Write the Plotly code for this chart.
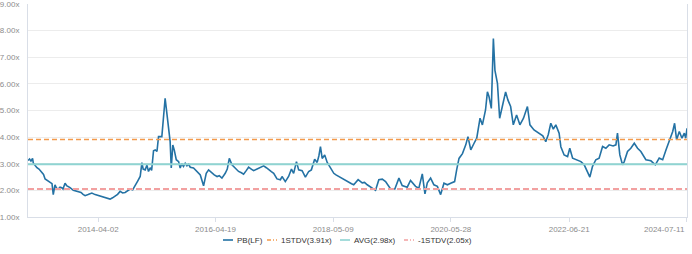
import plotly.graph_objects as go

# ---- data ----
dates = [
    "2013-01-10","2013-01-20","2013-01-29","2013-02-08","2013-02-13","2013-02-24","2013-03-08","2013-03-21",
    "2013-04-07","2013-04-19","2013-04-29","2013-05-11","2013-05-30","2013-06-12","2013-06-20","2013-07-01",
    "2013-07-11","2013-07-22","2013-08-02","2013-08-13","2013-08-21","2013-09-03","2013-09-13","2013-09-24",
    "2013-10-05","2013-10-26","2013-11-12","2013-11-27","2013-12-14","2013-12-27","2014-01-09","2014-01-28",
    "2014-02-21","2014-03-14","2014-04-04","2014-04-21","2014-05-16","2014-06-05","2014-06-17","2014-07-03",
    "2014-07-19","2014-08-04","2014-08-20","2014-09-05","2014-09-21","2014-10-07","2014-10-23","2014-11-08",
    "2014-11-24","2014-12-10","2014-12-26","2015-01-06","2015-01-14","2015-01-27","2015-02-07","2015-02-17",
    "2015-02-28","2015-03-09","2015-03-21","2015-04-01","2015-04-12","2015-04-22","2015-05-13","2015-05-24",
    "2015-06-03","2015-06-10","2015-06-14","2015-06-25","2015-07-05","2015-07-12","2015-07-22","2015-07-31",
    "2015-08-13","2015-08-28","2015-09-07","2015-09-17","2015-09-28","2015-10-09","2015-10-20","2015-10-31",
    "2015-11-10","2015-12-01","2015-12-23","2016-01-13","2016-02-03","2016-02-20","2016-03-06","2016-03-17",
    "2016-03-28","2016-04-11","2016-04-29","2016-05-13","2016-05-30","2016-06-11","2016-06-20","2016-07-03",
    "2016-07-16","2016-08-02","2016-08-23","2016-09-13","2016-10-01","2016-10-15","2016-11-02","2016-11-16",
    "2016-12-03","2016-12-18","2017-01-09","2017-01-30","2017-02-20","2017-03-09","2017-03-24","2017-04-10",
    "2017-04-25","2017-05-16","2017-06-07","2017-06-17","2017-07-08","2017-07-29","2017-08-16","2017-08-30",
    "2017-09-17","2017-10-01","2017-10-23","2017-11-13","2017-12-04","2017-12-21","2018-01-11","2018-01-27",
    "2018-02-07","2018-02-17","2018-02-28","2018-03-16","2018-04-01","2018-04-22","2018-05-13","2018-05-27",
    "2018-06-14","2018-07-01","2018-07-16","2018-08-02","2018-08-16","2018-09-03","2018-09-17","2018-10-15",
    "2018-11-10","2018-11-25","2018-12-12","2018-12-27","2019-01-13","2019-02-03","2019-02-24","2019-03-18",
    "2019-04-08","2019-04-24","2019-05-10","2019-06-06","2019-07-02","2019-07-23","2019-08-24","2019-09-14",
    "2019-09-30","2019-10-16","2019-11-06","2019-11-28","2019-12-15","2019-12-30","2020-01-20","2020-02-10",
    "2020-03-03","2020-03-24","2020-04-14","2020-05-06","2020-05-27","2020-06-21","2020-07-04","2020-07-19",
    "2020-08-10","2020-08-31","2020-09-14","2020-10-02","2020-10-23","2020-11-09","2020-11-30","2020-12-15",
    "2021-01-04","2021-01-16","2021-01-26","2021-02-10","2021-02-23","2021-03-05","2021-03-21","2021-04-04",
    "2021-04-21","2021-05-12","2021-05-27","2021-06-13","2021-06-30","2021-07-21","2021-08-11","2021-09-03",
    "2021-09-28","2021-10-14","2021-11-09","2021-12-11","2022-01-04","2022-01-23","2022-02-08","2022-02-24",
    "2022-03-12","2022-03-28","2022-04-18","2022-04-29","2022-05-20","2022-06-11","2022-06-25","2022-07-13",
    "2022-08-03","2022-09-04","2022-09-25","2022-10-16","2022-10-31","2022-11-17","2022-12-08","2022-12-29",
    "2023-01-20","2023-02-10","2023-03-03","2023-03-28","2023-04-15","2023-04-25","2023-05-10","2023-05-27",
    "2023-06-07","2023-06-28","2023-07-19","2023-08-10","2023-08-31","2023-09-21","2023-10-23","2023-11-24",
    "2023-12-22","2024-01-16","2024-02-07","2024-02-28","2024-03-20","2024-04-11","2024-04-23","2024-05-06",
    "2024-05-23","2024-06-09","2024-06-24","2024-07-03","2024-07-11",
]
pb = [
    3.12,3.18,3.10,3.20,3.02,2.92,2.85,2.80,
    2.66,2.60,2.43,2.38,2.33,2.25,1.84,2.21,
    2.08,2.05,2.12,2.10,2.05,2.27,2.18,2.15,
    2.10,2.00,1.98,1.96,1.92,1.85,1.80,1.84,
    1.90,1.84,1.80,1.78,1.73,1.70,1.67,1.72,
    1.77,1.85,1.96,1.90,1.92,1.98,2.05,2.02,
    2.21,2.35,2.52,3.04,2.80,2.77,2.95,2.71,
    2.85,2.75,3.49,3.52,3.46,4.02,4.02,4.90,
    5.46,5.10,4.90,4.27,3.83,2.84,3.70,3.52,
    3.15,3.08,2.84,3.00,2.90,3.02,2.92,2.98,
    2.87,2.84,2.71,2.58,2.17,2.64,2.77,2.70,
    2.64,2.58,2.52,2.55,2.46,2.55,2.64,2.80,
    3.20,2.96,2.84,2.71,2.66,2.61,2.75,2.87,
    2.80,2.74,2.80,2.86,2.92,2.85,2.77,2.70,
    2.64,2.43,2.40,2.52,2.33,2.52,2.80,2.64,
    3.08,2.77,2.74,2.50,2.71,2.77,3.17,3.05,
    3.30,3.64,3.20,3.33,3.05,2.84,2.64,2.58,
    2.52,2.45,2.40,2.35,2.28,2.25,2.21,2.40,
    2.28,2.30,2.21,2.15,2.05,2.00,2.40,2.42,
    2.33,2.20,2.05,2.05,2.46,2.18,2.12,2.37,
    2.25,2.15,2.08,2.62,1.87,2.28,2.46,2.21,
    2.15,1.84,2.27,2.21,2.27,2.33,2.77,3.20,
    3.38,3.71,4.02,3.52,3.77,3.96,4.71,4.46,
    5.02,5.70,5.53,5.08,7.70,6.51,6.02,4.71,
    5.15,5.70,5.39,5.15,4.46,4.83,4.46,4.71,
    5.15,4.46,4.27,4.15,4.05,3.83,4.10,4.52,
    4.30,4.46,4.15,3.64,3.33,3.27,3.58,3.21,
    3.15,3.08,2.96,2.71,2.50,2.90,3.15,3.21,
    3.65,3.58,3.71,3.67,3.71,4.15,3.33,2.96,
    3.08,3.46,3.58,3.77,3.58,3.46,3.15,3.11,
    2.96,3.21,3.15,3.52,3.90,4.21,4.52,3.90,
    4.21,3.96,4.15,3.96,4.33,
]
plus_std = 3.91
avg = 2.98
minus_std = 2.05
x_ticks = ["2014-04-02", "2016-04-19", "2018-05-09", "2020-05-28", "2022-06-21", "2024-07-11"]
y_ticks = [1, 2, 3, 4, 5, 6, 7, 8, 9]

FONT = "Liberation Sans, Arial, sans-serif"
TICK_GRAY = "#8c8c8c"
AXIS_GRAY = "#d9dee7"

# series styles (used both for traces and the compact legend)
series = [
    dict(name="PB(LF)", color="#2472a4", width=1.6, dash="solid", legdash="solid"),
    dict(name=f"1STDV({plus_std:.2f}x)", color="#f39a4c", width=1.5, dash="5px,3px", legdash="4px,2px,1px,2px"),
    dict(name=f"AVG({avg:.2f}x)", color="#8fd4d2", width=1.8, dash="solid", legdash="solid"),
    dict(name=f"-1STDV({minus_std:.2f}x)", color="#f2a0a0", width=2, dash="6px,3px", legdash="4px,2px,1px,2px"),
]
ys = [pb, [plus_std, plus_std], [avg, avg], [minus_std, minus_std]]
ends = [dates[0], dates[-1]]
xs = [dates, ends, ends, ends]

fig = go.Figure()
for s, x, y in zip(series, xs, ys):
    fig.add_trace(go.Scatter(x=x, y=y, mode="lines", name=s["name"],
                             line=dict(color=s["color"], width=s["width"], dash=s["dash"])))

# compact legend (ECharts-style) below the plot
W, H = 692, 254
L, R, T, B = 28, 5, 4, 37
pw, ph = W - L - R, H - T - B
def px(xp):
    return (xp - L) / pw
def py(yp):
    return (H - B - yp) / ph

leg_y = 240
icon_x = [223, 267, 340, 404]
for s, ix in zip(series, icon_x):
    fig.add_shape(type="line", xref="paper", yref="paper",
                  x0=px(ix), x1=px(ix + 10), y0=py(leg_y), y1=py(leg_y),
                  line=dict(color=s["color"], width=1.6, dash=s["legdash"]))
    fig.add_annotation(xref="paper", yref="paper", x=px(ix + 12), y=py(leg_y),
                       text=s["name"], showarrow=False, xanchor="left", yanchor="middle",
                       font=dict(family=FONT, size=8, color="#333"))

# last x tick label sits flush with the right edge, as in the reference
fig.add_annotation(xref="x", yref="paper", x=x_ticks[-1], y=0, yshift=-6,
                   text=x_ticks[-1], showarrow=False, xanchor="right", yanchor="top",
                   font=dict(family=FONT, size=8, color=TICK_GRAY))

fig.update_layout(
    width=W, height=H,
    margin=dict(l=L, r=R, t=T, b=B, autoexpand=False),
    paper_bgcolor="white", plot_bgcolor="white",
    font=dict(family=FONT, size=8, color="#333"),
    showlegend=False,
    hovermode=False,
)
fig.update_xaxes(
    type="date", range=[dates[0], "2024-07-11 02:00"], automargin=False,
    tickmode="array", tickvals=x_ticks, ticktext=x_ticks[:-1] + [""],
    showgrid=False, showline=True, linecolor=AXIS_GRAY, linewidth=1,
    ticks="outside", ticklen=4, tickcolor=AXIS_GRAY,
    tickfont=dict(family=FONT, size=8, color=TICK_GRAY),
    zeroline=False,
)
fig.update_yaxes(
    range=[0.999, 9.001], automargin=False, tickmode="array", tickvals=y_ticks,
    ticktext=[f"{v:.2f}x" for v in y_ticks],
    showgrid=True, gridcolor="#ececec", gridwidth=1,
    showline=True, mirror=True, linecolor=AXIS_GRAY, linewidth=1,
    ticks="", ticklabelstandoff=6, ticklabeloverflow="allow",
    tickfont=dict(family=FONT, size=8, color=TICK_GRAY),
    zeroline=False,
)

fig.write_html("out.html")
